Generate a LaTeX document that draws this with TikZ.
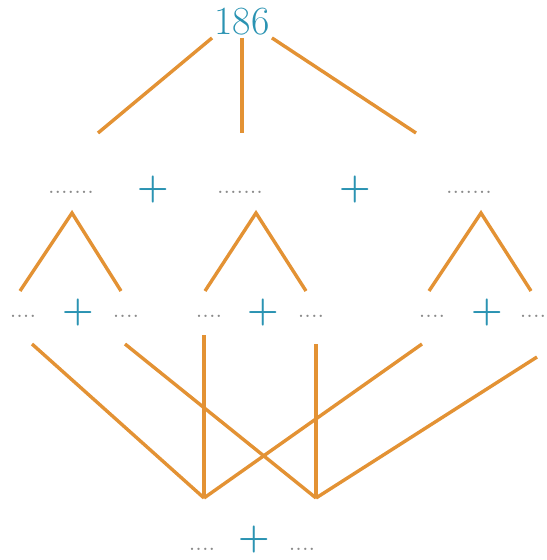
\documentclass[tikz,border=0pt]{standalone}
\definecolor{branch}{HTML}{E39234}
\definecolor{numcol}{HTML}{2A93B2}
\definecolor{blank}{HTML}{8A8A8A}
\tikzset{
  num/.style={text=numcol,inner sep=1pt,font=\fontsize{20}{24}\selectfont},
  plus/.style={text=numcol,inner sep=1pt,font=\bfseries\fontsize{18}{20}\selectfont},
  gap/.style={text=blank,inner sep=1pt,font=\fontsize{12}{14}\selectfont},
  edge/.style={draw=branch,line width=1.7pt}
}
\begin{document}
\begin{tikzpicture}[x=0.5pt,y=-0.5pt]
\useasboundingbox (0,0) rectangle (546,560);
\node[num] (top) at (242,22) {186};
\coordinate (e1) at (98,133);
\coordinate (e2) at (242,133);
\coordinate (e3) at (416,133);
\draw[edge] (top.south west) -- (e1);
\draw[edge] (top.south) -- (e2);
\draw[edge] (top.south east) -- (e3);
\node[gap] (a1) at (71,192) {.......};
\node[plus] (p1) at (153,190) {+};
\node[gap] (a2) at (240,192) {.......};
\node[plus] (p2) at (355,190) {+};
\node[gap] (a3) at (469,192) {.......};
\coordinate (l0) at (72,213);
\coordinate (l1) at (20,291);
\coordinate (l2) at (121,291);
\coordinate (m0) at (256,213);
\coordinate (m1) at (205,291);
\coordinate (m2) at (306,291);
\coordinate (r0) at (481,213);
\coordinate (r1) at (429,291);
\coordinate (r2) at (531,291);
\draw[edge] (l1) -- (l0) -- (l2);
\draw[edge] (m1) -- (m0) -- (m2);
\draw[edge] (r1) -- (r0) -- (r2);
\node[gap] (b1) at (23,316) {....};
\node[plus] (q1) at (78,313) {+};
\node[gap] (b2) at (126,316) {....};
\node[gap] (b3) at (209,316) {....};
\node[plus] (q2) at (263,313) {+};
\node[gap] (b4) at (311,316) {....};
\node[gap] (b5) at (432,316) {....};
\node[plus] (q3) at (487,313) {+};
\node[gap] (b6) at (533,316) {....};
\coordinate (s1) at (32,344);
\coordinate (s2) at (125,344);
\coordinate (s3) at (204,335);
\coordinate (s4) at (316,344);
\coordinate (s5) at (422,344);
\coordinate (s6) at (537,357);
\coordinate (v1) at (204,498);
\coordinate (v2) at (316,498);
\draw[edge] (s1) -- (v1);
\draw[edge] (s3) -- (v1);
\draw[edge] (s5) -- (v1);
\draw[edge] (s2) -- (v2);
\draw[edge] (s4) -- (v2);
\draw[edge] (s6) -- (v2);
\node[gap] (c1) at (202,549) {....};
\node[plus] (q4) at (254,540) {+};
\node[gap] (c2) at (302,549) {....};
\end{tikzpicture}
\end{document}
